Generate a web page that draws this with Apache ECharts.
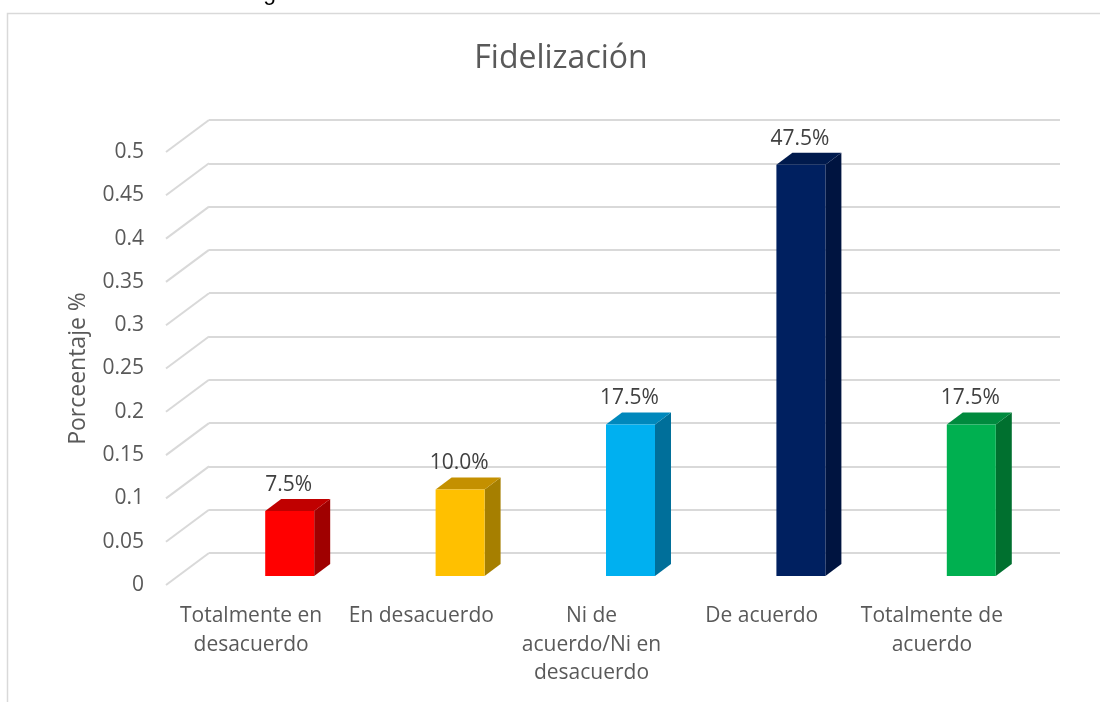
<!DOCTYPE html>
<html><head><meta charset="utf-8">
<script src="https://cdn.jsdelivr.net/npm/echarts@6/dist/echarts.min.js"></script>
<style>html,body{margin:0;padding:0;background:#fff}#c{width:1100px;height:702px}</style>
</head><body><div id="c"></div>
<script>
// ---- data ----
const categories = ['Totalmente en\ndesacuerdo', 'En desacuerdo', 'Ni de\nacuerdo/Ni en\ndesacuerdo', 'De acuerdo', 'Totalmente de\nacuerdo'];
const values = [0.075, 0.10, 0.175, 0.475, 0.175];
const valueLabels = ['7.5%', '10.0%', '17.5%', '47.5%', '17.5%'];
const yTicks = [0, 0.05, 0.1, 0.15, 0.2, 0.25, 0.3, 0.35, 0.4, 0.45, 0.5];
const yTickLabels = ['0', '0.05', '0.1', '0.15', '0.2', '0.25', '0.3', '0.35', '0.4', '0.45', '0.5'];
const chartTitle = 'Fidelización';
const yAxisTitle = 'Porceentaje %';
const captionText = 'Figura 6. Variación de la fidelización de clientes';

// ---- styles ----
const palette = [
  {front: '#FF0000', top: '#C00000', side: '#A00000'},
  {front: '#FFC000', top: '#C49000', side: '#A67F00'},
  {front: '#00B0F0', top: '#0088BC', side: '#006F9A'},
  {front: '#002060', top: '#001A4D', side: '#001440'},
  {front: '#00B050', top: '#008A3E', side: '#00702F'}
];
const FONT = '"Open Sans", sans-serif';
const backGrid = {left: 209, top: 120, width: 851, height: 433};
const frontGrid = {left: 166, top: 152, width: 851, height: 433};
const barGrid = {left: 204.5, top: 143, width: 852, height: 433};
const DX = frontGrid.left - backGrid.left;
const DY = frontGrid.top - backGrid.top;
const GRID_COLOR = '#d9d9d9';

const yMin = yTicks[0], yMax = yTicks[yTicks.length - 1], yStep = yTicks[1] - yTicks[0];
function tickLabel(v) {
  const idx = Math.round((v - yMin) / yStep);
  return yTickLabels[idx] !== undefined ? yTickLabels[idx] : '';
}

const chart = echarts.init(document.getElementById('c'), null, {renderer: 'canvas'});
const valueAxisBase = {type: 'value', min: yMin, max: yMax, interval: yStep};

chart.setOption({
  animation: false,
  backgroundColor: '#fff',
  grid: [backGrid, frontGrid, barGrid],
  xAxis: [
    {type: 'category', gridIndex: 0, data: categories, show: false},
    {type: 'category', gridIndex: 1, data: categories,
      axisLine: {show: false}, axisTick: {show: false},
      axisLabel: {interval: 0, margin: 17, color: '#595959', fontFamily: FONT, fontSize: 21, lineHeight: 28.5}},
    {type: 'category', gridIndex: 2, data: categories, show: false}
  ],
  yAxis: [
    Object.assign({}, valueAxisBase, {gridIndex: 0, axisLabel: {show: false}, axisLine: {show: false}, axisTick: {show: false},
      splitLine: {show: true, lineStyle: {color: GRID_COLOR, width: 2}}}),
    Object.assign({}, valueAxisBase, {gridIndex: 1, axisLine: {show: false}, axisTick: {show: false}, splitLine: {show: false},
      axisLabel: {margin: 22, color: '#595959', fontFamily: FONT, fontSize: 21, formatter: tickLabel},
      name: yAxisTitle, nameLocation: 'middle', nameRotate: 90, nameGap: 76,
      nameTextStyle: {color: '#595959', fontFamily: FONT, fontSize: 23}}),
    Object.assign({}, valueAxisBase, {gridIndex: 2, show: false, splitLine: {show: false}})
  ],
  graphic: [
    {type: 'rect', shape: {x: 7.5, y: 13.5, width: 1200, height: 800}, style: {fill: 'none', stroke: GRID_COLOR, lineWidth: 1.5}, silent: true},
    {type: 'text', x: 561, y: 59, style: {text: chartTitle, fill: '#595959', font: '32px ' + FONT, align: 'center', verticalAlign: 'middle'}},
    {type: 'text', x: 244, y: 5, style: {text: captionText, fill: '#000', font: '23px "Liberation Sans", sans-serif', align: 'left', verticalAlign: 'bottom'}}
  ],
  series: [
    {
      type: 'custom', xAxisIndex: 0, yAxisIndex: 0, silent: true,
      data: yTicks.map(v => [0, v]),
      renderItem: function (params, api) {
        const y = api.coord([0, api.value(1)])[1];
        const x = params.coordSys.x;
        return {type: 'line', shape: {x1: x, y1: y, x2: x + DX, y2: y + DY},
          style: {stroke: GRID_COLOR, lineWidth: 2}};
      }
    },
    {
      type: 'custom', xAxisIndex: 2, yAxisIndex: 2, silent: true,
      data: values.map((v, i) => [i, v]),
      renderItem: function (params, api) {
        const i = api.value(0), v = api.value(1);
        const b = api.coord([i, 0]), t = api.coord([i, v]);
        const band = api.size([1, 0])[0];
        const w = band * 0.2875, dx = 16, dy = -12;
        const x0 = b[0] - w / 2, x1 = b[0] + w / 2, yb = b[1], yt = t[1];
        const c = palette[i % palette.length];
        return {type: 'group', children: [
          {type: 'polygon', shape: {points: [[x1, yb], [x1 + dx, yb + dy], [x1 + dx, yt + dy], [x1, yt]]}, style: {fill: c.side}},
          {type: 'polygon', shape: {points: [[x0, yt], [x1, yt], [x1 + dx, yt + dy], [x0 + dx, yt + dy]]}, style: {fill: c.top}},
          {type: 'rect', shape: {x: x0, y: yt, width: w, height: yb - yt}, style: {fill: c.front}},
          {type: 'text', x: b[0] - 1, y: yt + dy - 14, style: {text: valueLabels[i], fill: '#404040', font: '21px ' + FONT, align: 'center', verticalAlign: 'middle'}}
        ]};
      }
    }
  ]
});
</script>
</body></html>
